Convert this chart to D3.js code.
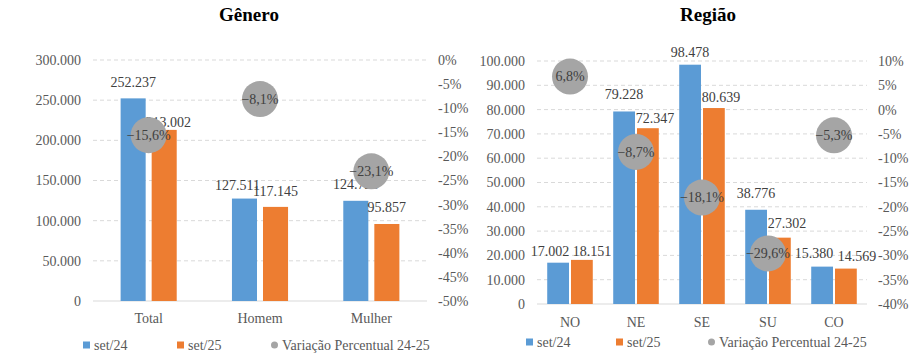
<!DOCTYPE html>
<html>
<head>
<meta charset="utf-8">
<script src="https://cdn.jsdelivr.net/npm/d3@7"></script>
<style>
  body { margin: 0; background: #fff; }
  svg text { font-family: "Liberation Serif", "DejaVu Serif", serif; }
  .tick-label { fill: #595959; font-size: 14px; }
  .val-label { fill: #404040; font-size: 14px; }
</style>
</head>
<body>
<svg width="916" height="363"></svg>
<script>
// dados - genero
const generoCats = ["Total", "Homem", "Mulher"];
const generoSet24 = [252237, 127511, 124726];
const generoSet25 = [213002, 117145, 95857];
const generoVar = [-15.6, -8.1, -23.1];
const generoLeftTicks = [0, 50000, 100000, 150000, 200000, 250000, 300000];
const generoRightTicks = [0, -5, -10, -15, -20, -25, -30, -35, -40, -45, -50];

// dados - regiao
const regiaoCats = ["NO", "NE", "SE", "SU", "CO"];
const regiaoSet24 = [17002, 79228, 98478, 38776, 15380];
const regiaoSet25 = [18151, 72347, 80639, 27302, 14569];
const regiaoVar = [6.8, -8.7, -18.1, -29.6, -5.3];
const regiaoLeftTicks = [0, 10000, 20000, 30000, 40000, 50000, 60000, 70000, 80000, 90000, 100000];
const regiaoRightTicks = [10, 5, 0, -5, -10, -15, -20, -25, -30, -35, -40];

const seriesNames = ["set/24", "set/25", "Variação Percentual 24-25"];
const colors = ["#5B9BD5", "#ED7D31", "#A5A5A5"];

const br = d3.formatLocale({ decimal: ",", thousands: ".", grouping: [3], currency: ["R$", ""] });
const fmtNum = br.format(",.0f");
const fmtPct1 = v => br.format(".1f")(v) + "%";

const svg = d3.select("svg");

function painel(cfg) {
  const g = svg.append("g");

  // titulo
  g.append("text")
    .attr("x", cfg.titleX).attr("y", 21)
    .attr("text-anchor", "middle")
    .attr("font-weight", "bold").attr("font-size", "19px")
    .attr("fill", "#000")
    .text(cfg.title);

  const x = d3.scaleBand().domain(cfg.cats).range([cfg.left, cfg.right]);
  const y = d3.scaleLinear().domain([0, d3.max(cfg.leftTicks)]).range([cfg.bottom, cfg.top]);
  const y2 = d3.scaleLinear().domain([d3.min(cfg.rightTicks), d3.max(cfg.rightTicks)]).range([cfg.bottom, cfg.top]);

  // grade
  g.selectAll(".grid").data(cfg.leftTicks.filter(d => d > 0)).join("line")
    .attr("x1", cfg.left).attr("x2", cfg.right)
    .attr("y1", d => y(d)).attr("y2", d => y(d))
    .attr("stroke", "#d9d9d9").attr("stroke-dasharray", "4,3");
  g.append("line")
    .attr("x1", cfg.left).attr("x2", cfg.right)
    .attr("y1", y(0)).attr("y2", y(0))
    .attr("stroke", "#d9d9d9");

  // eixo esquerdo
  g.selectAll(".lt").data(cfg.leftTicks).join("text")
    .attr("class", "tick-label")
    .attr("x", cfg.left - 12).attr("y", d => y(d))
    .attr("dy", "0.35em").attr("text-anchor", "end")
    .text(d => fmtNum(d));

  // eixo direito
  g.selectAll(".rt").data(cfg.rightTicks).join("text")
    .attr("class", "tick-label")
    .attr("x", cfg.right + 11).attr("y", d => y2(d))
    .attr("dy", "0.35em").attr("text-anchor", "start")
    .text(d => d + "%");

  // categorias
  g.selectAll(".cat").data(cfg.cats).join("text")
    .attr("class", "tick-label")
    .attr("font-size", "15px")
    .attr("x", d => x(d) + x.bandwidth() / 2).attr("y", cfg.catY)
    .attr("dy", "0.35em")
    .attr("text-anchor", "middle")
    .text(d => d);

  // barras
  const bw = x.bandwidth() * cfg.barFrac;
  const gap = cfg.gap;
  const series = [cfg.s24, cfg.s25];
  series.forEach((vals, si) => {
    const off = si === 0 ? -gap / 2 - bw : gap / 2;
    const nudge = cfg.nudge[si];
    g.selectAll(".bar" + si).data(vals).join("rect")
      .attr("x", (d, i) => x(cfg.cats[i]) + x.bandwidth() / 2 + off)
      .attr("y", d => y(d))
      .attr("width", bw)
      .attr("height", d => y(0) - y(d))
      .attr("fill", colors[si]);
    g.selectAll(".vl" + si).data(vals).join("text")
      .attr("class", "val-label")
      .attr("x", (d, i) => x(cfg.cats[i]) + x.bandwidth() / 2 + off + bw / 2 + nudge[i][0])
      .attr("y", (d, i) => y(d) + nudge[i][1])
      .attr("dy", "0.35em")
      .attr("text-anchor", "middle")
      .text(d => fmtNum(d));
  });

  // variacao
  g.selectAll(".dot").data(cfg.vars).join("circle")
    .attr("cx", (d, i) => x(cfg.cats[i]) + x.bandwidth() / 2)
    .attr("cy", d => y2(d))
    .attr("r", 18)
    .attr("fill", colors[2]);
  g.selectAll(".dl").data(cfg.vars).join("text")
    .attr("class", "val-label")
    .attr("x", (d, i) => x(cfg.cats[i]) + x.bandwidth() / 2)
    .attr("y", d => y2(d))
    .attr("dy", "0.35em")
    .attr("text-anchor", "middle")
    .text(d => fmtPct1(d));

  // legenda
  const lg = g.append("g").attr("transform", `translate(0,${cfg.legendY})`);
  cfg.legendX.forEach((lx, i) => {
    if (i < 2) {
      lg.append("rect").attr("x", lx).attr("y", -3.5).attr("width", 7).attr("height", 7).attr("fill", colors[i]);
    } else {
      lg.append("circle").attr("cx", lx + 3.5).attr("cy", 0).attr("r", 3.5).attr("fill", colors[i]);
    }
    lg.append("text")
      .attr("class", "tick-label")
      .attr("x", lx + 11).attr("y", 0)
      .attr("dy", "0.35em")
      .text(seriesNames[i]);
  });
}

painel({
  title: "Gênero", titleX: 249,
  cats: generoCats, s24: generoSet24, s25: generoSet25, vars: generoVar,
  leftTicks: generoLeftTicks, rightTicks: generoRightTicks,
  left: 93, right: 427, top: 60, bottom: 301,
  barFrac: 0.225, gap: 6, catY: 318,
  // ajuste dos rotulos (dx, dy em relacao ao topo da barra)
  nudge: [[[0, -16], [-7, -13], [0, -17]], [[4, -8], [0, -16], [0, -17]]],
  legendY: 345, legendX: [83, 177, 271]
});

painel({
  title: "Região", titleX: 708,
  cats: regiaoCats, s24: regiaoSet24, s25: regiaoSet25, vars: regiaoVar,
  leftTicks: regiaoLeftTicks, rightTicks: regiaoRightTicks,
  left: 537, right: 867, top: 61, bottom: 304,
  barFrac: 0.33, gap: 2, catY: 322,
  nudge: [[[-8, -12], [0, -17], [0, -13], [0, -17], [-8, -14]], [[10, -9], [7, -10], [7, -11], [7, -15], [11, -12]]],
  legendY: 342, legendX: [526, 616, 708]
});
</script>
</body>
</html>
